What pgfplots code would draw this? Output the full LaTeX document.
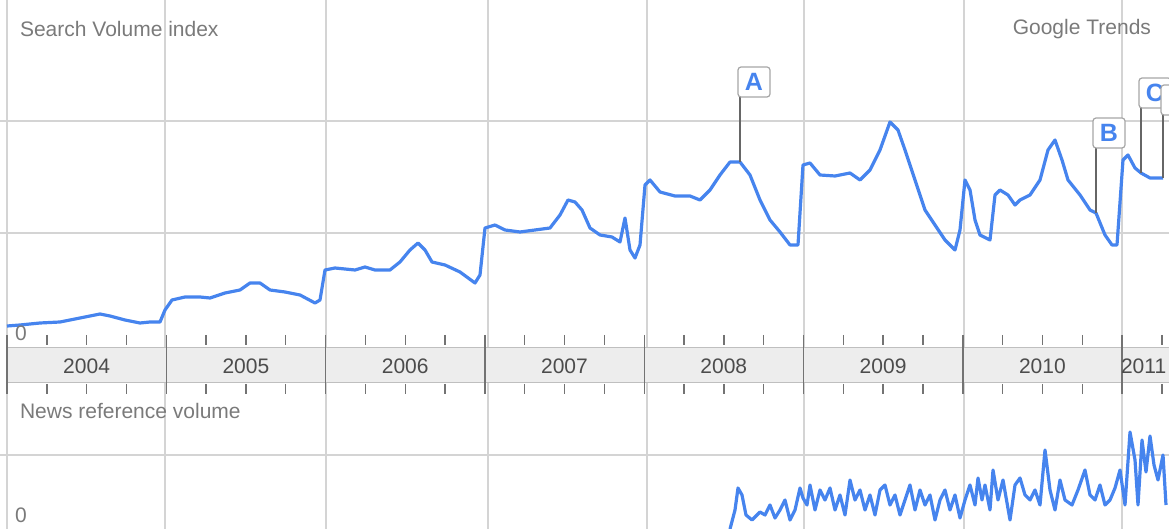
\documentclass[border=0pt]{standalone}
\usepackage{pgfplots}
\pgfplotsset{compat=1.18}
\usepackage{fontspec}
\setmainfont{Liberation Sans}
\definecolor{gblue}{HTML}{4684EE}
\definecolor{gridc}{HTML}{D4D4D4}
\definecolor{txt}{HTML}{7A7A7A}
\begin{document}
\begin{tikzpicture}[font=\fontsize{10.5}{12}\selectfont]
\useasboundingbox (0pt,0pt) rectangle (584.5pt,-264.5pt);
\begin{scope}[x=0.5pt,y=-0.5pt]
\foreach \gx in {7,165,326,488,647,804,964,1122}{
  \draw[gridc,line width=0.6pt] (\gx,0) -- (\gx,348);
  \draw[gridc,line width=0.6pt] (\gx,383) -- (\gx,529);
}
\foreach \gy in {121,233,455}{\draw[gridc,line width=0.6pt] (0,\gy) -- (1169,\gy);}
\fill[black!7] (7,348) rectangle (1169,383);
\draw[black!25,line width=0.5pt] (7,348) -- (1169,348) (7,383) -- (1169,383);
\foreach \yr in {0,...,7}{
  \pgfmathsetmacro\bx{7+159.3*\yr}
  \draw[black!55,line width=0.7pt] (\bx,335) -- (\bx,394);
  \foreach \q in {1,2,3}{
    \pgfmathsetmacro\qx{\bx+39.8*\q}
    \draw[black!55,line width=0.7pt] (\qx,335) -- (\qx,345);
    \draw[black!55,line width=0.7pt] (\qx,384) -- (\qx,394);
  }
}
\foreach \yr [count=\i from 0] in {2004,2005,2006,2007,2008,2009,2010}{
  \node[text=black!70] at ({7+159.3*\i+79.6},366) {\yr};
}
\node[text=black!70,anchor=west] at (1114,366) {2011};
\end{scope}
\begin{axis}[at={(0pt,-172.5pt)},anchor=south west,scale only axis,width=584.5pt,height=172.5pt,
  xmin=0,xmax=1169,ymin=0,ymax=345,axis lines=none,clip=false]
\addplot[gblue,line width=1.6pt,line join=round] coordinates {
(7,19)(20,20)(40,22)(60,23)(80,27)(100,31)(110,29)(125,25)(140,22)(150,23)(160,23)
(165,35)(172,45)(185,48)(200,48)(210,47)(225,52)(240,55)(250,62)(260,62)(270,55)
(285,53)(300,50)(315,42)(320,45)(325,75)(335,77)(355,75)(365,78)(375,75)(390,75)
(400,83)(410,95)(418,102)(425,95)(432,83)(445,80)(460,73)(475,62)(480,70)(485,117)
(495,120)(505,115)(520,113)(535,115)(550,117)(560,130)(568,145)(575,143)(582,135)
(590,117)(600,110)(612,108)(620,103)(625,127)(630,95)(635,87)(640,100)(645,160)
(650,165)(660,153)(675,149)(690,149)(700,145)(710,155)(720,170)(730,183)(740,183)
(750,170)(760,145)(770,125)(780,113)(790,100)(798,100)(803,180)(810,182)(820,170)
(835,169)(850,172)(860,165)(870,175)(880,195)(890,223)(898,215)(905,195)(915,165)
(925,135)(935,120)(945,105)(955,95)(960,115)(965,165)(970,155)(975,125)(980,110)
(990,105)(995,150)(1000,155)(1008,150)(1015,140)(1020,145)(1030,150)(1040,165)
(1048,195)(1055,205)(1062,185)(1068,165)(1080,150)(1090,135)(1096,132)(1105,110)
(1112,100)(1117,100)(1123,185)(1128,190)(1135,177)(1141,172)(1150,167)(1157,167)(1163,167)
};
\end{axis}
\begin{axis}[at={(0pt,-264.5pt)},anchor=south west,scale only axis,width=584.5pt,height=67pt,
  xmin=0,xmax=1169,ymin=0,ymax=134,axis lines=none,clip=false]
\addplot[gblue,line width=1.6pt,line join=round] coordinates {
(730,0)(735,19)(738,41)(742,34)(746,14)(752,9)(760,17)(765,14)(770,24)(775,11)(780,19)
(785,29)(790,9)(795,19)(800,41)(803,31)(807,24)(810,44)(815,19)(820,39)(825,29)(830,41)
(835,19)(840,34)(845,14)(850,49)(855,29)(860,39)(865,19)(870,34)(875,14)(880,39)(885,44)
(890,24)(895,34)(900,14)(905,29)(910,44)(915,19)(920,39)(925,24)(930,34)(935,9)(940,29)
(945,39)(950,19)(955,34)(960,11)(965,29)(970,44)(975,24)(978,51)(982,29)(985,44)(990,19)
(993,59)(998,29)(1003,49)(1010,9)(1015,44)(1020,51)(1025,34)(1030,29)(1035,39)(1040,24)
(1045,79)(1050,39)(1055,19)(1060,49)(1065,29)(1072,24)(1078,39)(1085,59)(1090,34)(1095,29)
(1100,44)(1105,24)(1110,29)(1115,41)(1120,59)(1125,24)(1130,97)(1135,69)(1138,24)(1142,89)
(1146,57)(1150,93)(1154,64)(1158,49)(1163,74)(1166,24)
};
\end{axis}
\begin{scope}[x=0.5pt,y=-0.5pt]
\node[text=txt,anchor=west] at (13,29) {Search Volume index};
\node[text=txt,anchor=east] at (1158,29) {Google Trends};
\node[text=txt,anchor=west] at (13,411) {News reference volume};
\node[text=txt] at (21,333) {0};
\node[text=txt] at (21,515) {0};
\draw[black!60,line width=0.6pt] (740,97) -- (740,162);
\draw[black!60,line width=0.6pt] (1096,148) -- (1096,213);
\draw[black!60,line width=0.6pt] (1141,108) -- (1141,173);
\draw[black!60,line width=0.6pt] (1163,115) -- (1163,178);
\foreach \bx/\by/\l in {738/67/A,1093/118/B,1139/78/C,1161/85/{}}{
  \draw[black!35,fill=white,rounded corners=1.5pt,line width=0.6pt] (\bx,\by) rectangle ++(32,30);
  \node[text=gblue,font=\fontsize{12.5}{13}\selectfont\bfseries] at (\bx+16,\by+15) {\l};
}
\end{scope}
\end{tikzpicture}
\end{document}
